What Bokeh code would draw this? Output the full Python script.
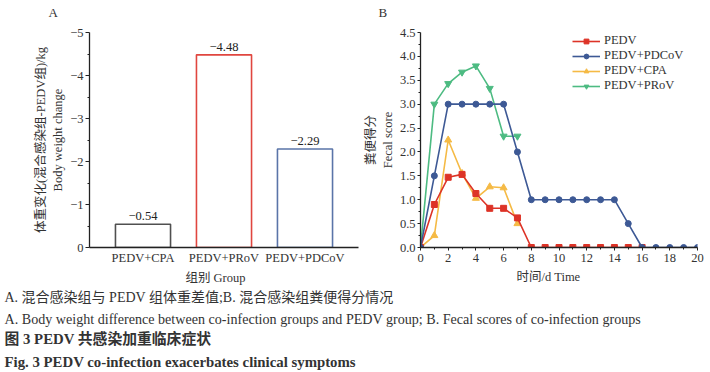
from bokeh.plotting import figure
from bokeh.models import (Range1d, FactorRange, FixedTicker, Label, Legend, LegendItem, ColumnDataSource)
from bokeh.layouts import column, row
from bokeh.embed import file_html
from bokeh.resources import INLINE

# ---------------- data ----------------
groups = ["PEDV+CPA", "PEDV+PRoV", "PEDV+PDCoV"]
weight_change = [-0.54, -4.48, -2.29]
bar_colors = ["#505050", "#e0463f", "#5a74a8"]
a_ticks = [-5, -4, -3, -2, -1, 0]
a_tick_labels = ["\u22125", "\u22124", "\u22123", "\u22122", "\u22121", "0"]

days_pedv = list(range(0, 17))
score_pedv = [0, 0.9, 1.47, 1.53, 1.13, 0.82, 0.82, 0.62, 0, 0, 0, 0, 0, 0, 0, 0, 0]
days_pdcov = list(range(0, 21))
score_pdcov = [0, 1.5, 3, 3, 3, 3, 3, 2, 1, 1, 1, 1, 1, 1, 1, 0.5, 0, 0, 0, 0, 0]
days_cpa = list(range(0, 8))
score_cpa = [0, 0.25, 2.25, 1.55, 1.03, 1.27, 1.25, 0.5]
days_prov = list(range(0, 8))
score_prov = [0, 3.0, 3.43, 3.67, 3.8, 3.33, 2.33, 2.33]
b_xticks = [0, 2, 4, 6, 8, 10, 12, 14, 16, 18, 20]
b_yticks = [0, 0.5, 1.0, 1.5, 2.0, 2.5, 3.0, 3.5, 4.0, 4.5]

SERIF = "'Liberation Serif', 'Noto Sans CJK SC'"
TXT = "#333333"

def style_axes(p):
    for ax in p.axis:
        ax.axis_line_color = "#222222"
        ax.axis_line_width = 1.3
        ax.major_tick_line_color = "#222222"
        ax.minor_tick_line_color = "#222222"
        ax.major_label_text_font = SERIF
        ax.major_label_text_font_size = "12.5px"
        ax.major_label_text_color = TXT
        ax.axis_label_text_font = SERIF
        ax.axis_label_text_font_size = "12.5px"
        ax.axis_label_text_font_style = "normal"
        ax.axis_label_text_color = TXT
    p.grid.visible = False
    p.outline_line_color = None

def text_strip(width, height):
    s = figure(width=width, height=height, output_backend="svg", toolbar_location=None,
               x_range=Range1d(0, width), y_range=Range1d(height, 0),
               min_border=0, x_axis_type=None, y_axis_type=None)
    s.grid.visible = False
    s.outline_line_color = None
    return s

def put(s, x, y, text, size="12.5px", style="normal", align="left"):
    s.add_layout(Label(x=x, y=y, text=text, text_font=SERIF, text_font_size=size,
                       text_font_style=style, text_color=TXT, text_align=align,
                       text_baseline="middle"))

# ---------------- top strip (panel letters) ----------------
top = text_strip(710, 19)
put(top, 48, 12, "A", size="13px")
put(top, 378, 12, "B", size="13px")

# ---------------- panel A ----------------
pA = figure(width=360, height=249, output_backend="svg", toolbar_location=None,
            x_range=FactorRange(factors=groups, range_padding=0.107, range_padding_units="percent"),
            y_range=Range1d(0, -5),
            min_border_left=89, min_border_right=2, min_border_top=13, min_border_bottom=19)
srcA = ColumnDataSource(dict(g=groups, v=weight_change, c=bar_colors,
                             t=[f"{v:.2f}".replace("-", "\u2212") for v in weight_change]))
pA.vbar(x="g", top="v", bottom=0, width=0.68, source=srcA, fill_color=None,
        line_color="c", line_width=1.6)
pA.text(x="g", y="v", text="t", source=srcA, text_align="center", text_baseline="bottom",
        y_offset=-4, text_font_size="12.5px", text_color="#222222",
        text_font={"value": "Liberation Serif"})
style_axes(pA)
pA.yaxis.ticker = FixedTicker(ticks=a_ticks, minor_ticks=[-4.5, -3.5, -2.5, -1.5, -0.5])
pA.yaxis.major_label_overrides = dict(zip(a_ticks, a_tick_labels))
pA.yaxis.major_tick_out = 4
pA.yaxis.major_tick_in = 0
pA.yaxis.minor_tick_out = 2
pA.yaxis.minor_tick_in = 0
pA.yaxis.major_label_standoff = 2
pA.yaxis.axis_label = "体重变化(混合感染组-PEDV组)/kg\nBody weight change"
pA.yaxis.axis_label_standoff = 2
pA.xaxis.major_tick_out = 0
pA.xaxis.major_tick_in = 0
pA.xaxis.major_label_standoff = 3

# ---------------- panel B ----------------
pB = figure(width=350, height=249, output_backend="svg", toolbar_location=None,
            x_range=Range1d(0, 20), y_range=Range1d(0, 4.5),
            min_border_left=60, min_border_right=13, min_border_top=6, min_border_bottom=21)
style_axes(pB)
ms = 6
r_prov = pB.line(days_prov, score_prov, line_color="#4dbb82", line_width=1.6)
m_prov = pB.scatter(days_prov, score_prov, marker="inverted_triangle", size=ms + 1,
                    color="#4dbb82")
r_cpa = pB.line(days_cpa, score_cpa, line_color="#f5ba45", line_width=1.6)
m_cpa = pB.scatter(days_cpa, score_cpa, marker="triangle", size=ms + 1, color="#f5ba45")
r_pedv = pB.line(days_pedv, score_pedv, line_color="#dd3327", line_width=1.6)
m_pedv = pB.scatter(days_pedv, score_pedv, marker="square", size=ms, color="#dd3327")
r_pdcov = pB.line(days_pdcov, score_pdcov, line_color="#3d5995", line_width=1.6)
m_pdcov = pB.scatter(days_pdcov, score_pdcov, marker="circle", size=ms, color="#3d5995")

legend = Legend(items=[
    LegendItem(label="PEDV", renderers=[r_pedv, m_pedv]),
    LegendItem(label="PEDV+PDCoV", renderers=[r_pdcov, m_pdcov]),
    LegendItem(label="PEDV+CPA", renderers=[r_cpa, m_cpa]),
    LegendItem(label="PEDV+PRoV", renderers=[r_prov, m_prov]),
], location=(152, 154), border_line_color=None, background_fill_alpha=0,
    label_text_font=SERIF, label_text_font_size="12.5px", label_text_color=TXT,
    glyph_width=28, glyph_height=12, label_height=12, spacing=-2, padding=0,
    label_standoff=4, margin=0)
pB.add_layout(legend, "center")

pB.xaxis.ticker = FixedTicker(ticks=b_xticks, minor_ticks=list(range(1, 20, 2)))
pB.yaxis.ticker = FixedTicker(ticks=b_yticks,
                              minor_ticks=[0.25 + 0.5 * i for i in range(9)])
pB.yaxis.major_label_overrides = {t: f"{t:.1f}" for t in b_yticks}
for ax in pB.axis:
    ax.major_tick_out = 3
    ax.major_tick_in = 0
    ax.minor_tick_out = 2
    ax.minor_tick_in = 0
pB.yaxis.major_label_standoff = 2
pB.yaxis.axis_label = "粪便得分\nFecal score"
pB.yaxis.axis_label_standoff = 2
pB.xaxis.major_label_standoff = 3

# ---------------- bottom strip: axis titles + captions ----------------
pC = text_strip(710, 104)
put(pC, 215, 9, "组别 Group", align="center")
put(pC, 548, 8, "时间/d Time", align="center")
captions = [
    ("A. 混合感染组与 PEDV 组体重差值;B. 混合感染组粪便得分情况", 29, "normal", "14px"),
    ("A. Body weight difference between co-infection groups and PEDV group; B.  Fecal scores of co-infection groups", 50, "normal", "14.1px"),
    ("图 3    PEDV 共感染加重临床症状", 70, "bold", "14.8px"),
    ("Fig. 3    PEDV co-infection exacerbates clinical symptoms", 93, "bold", "14.8px"),
]
for txt, yy, st, fs in captions:
    put(pC, 4, yy, txt, size=fs, style=st)

layout = column(top, row(pA, pB, spacing=0), pC, spacing=0)
open("out.html", "w").write(file_html(layout, INLINE))
